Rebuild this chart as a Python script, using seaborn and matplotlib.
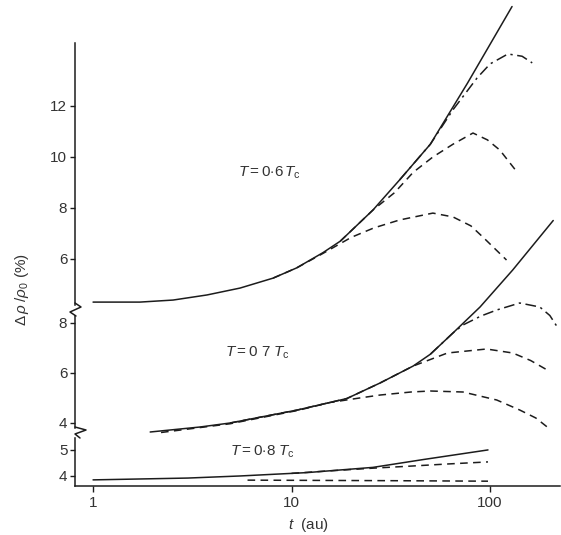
import matplotlib.pyplot as plt
import seaborn as sns
import numpy as np
from matplotlib.lines import Line2D
from matplotlib.ticker import FixedLocator, NullLocator, FixedFormatter

sns.set_theme(style="white")
plt.rcParams['font.family'] = ['Liberation Sans', 'DejaVu Sans']
plt.rcParams.update({
    'mathtext.fontset': 'custom',
    'mathtext.rm': 'Liberation Sans',
    'mathtext.it': 'Liberation Sans:italic',
    'mathtext.bf': 'Liberation Sans:bold',
    'font.size': 11,
    'xtick.labelsize': 11,
    'ytick.labelsize': 11,
})

INK = '#1c1c1c'

# ---- T = 0.6 Tc (top block) ----
t06_solid = [1, 1.72, 2.53, 3.75, 5.5, 8.07, 10.6, 14.4, 17.6, 25.7, 35, 50, 77, 129]
y06_solid = [4.31, 4.31, 4.39, 4.59, 4.86, 5.25, 5.65, 6.25, 6.7, 7.92, 9.1, 10.5, 12.9, 15.9]
t06_dash_low = [8.07, 10.6, 14.4, 20, 26, 35, 51.5, 65, 80, 92, 121]
y06_dash_low = [5.25, 5.65, 6.22, 6.85, 7.22, 7.53, 7.8, 7.65, 7.3, 6.86, 5.96]
t06_dash_mid = [17.6, 25.7, 33, 41, 51.5, 65, 82, 97, 112, 138]
y06_dash_mid = [6.7, 7.92, 8.6, 9.4, 10.0, 10.5, 10.94, 10.67, 10.27, 9.37]
t06_dashdot = [35, 50, 65, 86, 100, 123, 145, 163]
y06_dashdot = [9.1, 10.5, 11.85, 13.1, 13.65, 14.04, 13.95, 13.69]

# ---- T = 0.7 Tc (middle block) ----
t07_solid = [1.94, 3.46, 4.9, 10.7, 16.2, 19, 27.9, 41, 50, 65, 89, 130, 208]
y07_solid = [3.64, 3.84, 4.0, 4.52, 4.85, 4.98, 5.6, 6.28, 6.75, 7.6, 8.64, 10.12, 12.1]
t07_dash_low = [2.2, 4.9, 10.7, 15.6, 22, 28, 40, 50, 73, 108, 141, 170, 194]
y07_dash_low = [3.62, 3.97, 4.5, 4.82, 5.0, 5.12, 5.24, 5.28, 5.24, 4.92, 4.52, 4.2, 3.84]
t07_dash_mid = [4.9, 10.7, 19, 27.9, 41, 61, 96, 130, 160, 194]
y07_dash_mid = [4.0, 4.52, 4.98, 5.6, 6.28, 6.8, 6.96, 6.8, 6.5, 6.12]
t07_dashdot = [50, 65, 73, 90, 108, 141, 178, 200, 218]
y07_dashdot = [6.75, 7.6, 7.92, 8.28, 8.52, 8.8, 8.64, 8.3, 7.84]

# ---- T = 0.8 Tc (bottom block) ----
t08_solid = [1, 3, 5.5, 12, 25.7, 46, 97.6]
y08_solid = [3.85, 3.92, 4.0, 4.13, 4.33, 4.63, 5.0]
t08_dash_mid = [10, 14.4, 25.7, 38, 61, 97.6]
y08_dash_mid = [4.1, 4.18, 4.3, 4.37, 4.46, 4.54]
t08_dash_low = [6, 30, 97.6]
y08_dash_low = [3.84, 3.82, 3.8]

x_ticks = [1, 10, 100]
x_ticklabels = ['1', '10', '100']

DASH = (0, (5, 3.5))
DASHDOT = (0, (7, 3, 1.5, 3))

W, H = 561, 535
fig = plt.figure(figsize=(W / 100, H / 100), dpi=100)

x_left, x_right = 75, 560


def add_panel(top_px, bottom_px, ylim, yticks, spine_lo, spine_hi):
    ax = fig.add_axes([x_left / W, 1 - bottom_px / H,
                       (x_right - x_left) / W, (bottom_px - top_px) / H])
    ax.patch.set_alpha(0)
    ax.set_xscale('log')
    ax.set_xlim(0.811, 225)
    ax.set_ylim(*ylim)
    ax.yaxis.set_major_locator(FixedLocator(yticks))
    ax.yaxis.set_major_formatter(FixedFormatter([str(v) for v in yticks]))
    ax.yaxis.set_minor_locator(NullLocator())
    ax.xaxis.set_minor_locator(NullLocator())
    for s in ['top', 'right', 'bottom']:
        ax.spines[s].set_visible(False)
    ax.spines['left'].set_color(INK)
    ax.spines['left'].set_linewidth(1.1)
    ax.spines['left'].set_bounds(spine_lo, spine_hi)
    ax.tick_params(axis='y', direction='out', length=3.5, width=1.0,
                   color=INK, labelcolor='#333333', pad=2, left=True)
    ax.set_xticks([])
    ax.set_xlabel('')
    ax.set_ylabel('')
    return ax


def curve(ax, t, y, ls='-'):
    sns.lineplot(x=t, y=y, ax=ax, color=INK, linewidth=1.1,
                 linestyle=ls, estimator=None, sort=False, clip_on=False)


ax_top = add_panel(43, 310, (4.0, 14.47), [6, 8, 10, 12], 4.2, 14.47)
ax_mid = add_panel(310, 433, (3.6, 8.52), [4, 6, 8], 3.8, 8.3)
ax_bot = add_panel(433, 486, (3.615, 5.65), [4, 5], 3.615, 5.45)

curve(ax_top, t06_solid, y06_solid)
curve(ax_top, t06_dash_low, y06_dash_low, DASH)
curve(ax_top, t06_dash_mid, y06_dash_mid, DASH)
curve(ax_top, t06_dashdot, y06_dashdot, DASHDOT)

curve(ax_mid, t07_solid, y07_solid)
curve(ax_mid, t07_dash_low, y07_dash_low, DASH)
curve(ax_mid, t07_dash_mid, y07_dash_mid, DASH)
curve(ax_mid, t07_dashdot, y07_dashdot, DASHDOT)

curve(ax_bot, t08_solid, y08_solid)
curve(ax_bot, t08_dash_mid, y08_dash_mid, DASH)
curve(ax_bot, t08_dash_low, y08_dash_low, DASH)

# bottom axis carries the log time axis
ax_bot.spines['bottom'].set_visible(True)
ax_bot.spines['bottom'].set_color(INK)
ax_bot.spines['bottom'].set_linewidth(1.1)
ax_bot.set_xticks(x_ticks)
ax_bot.set_xticklabels(x_ticklabels)
ax_bot.xaxis.set_minor_locator(NullLocator())
ax_bot.tick_params(axis='x', direction='out', length=4, width=1.0,
                   color=INK, labelcolor='#333333', pad=3, bottom=True)

ax_top.text(5.4, 9.37, r'$T = 0{\cdot}6\,T_{\rm c}$', fontsize=11,
            color='#333333', ha='left', va='center')
ax_mid.text(4.62, 6.8, r'$T = 0\ 7\;T_{\rm c}$', fontsize=11,
            color='#333333', ha='left', va='center')
ax_bot.text(4.9, 4.92, r'$T = 0{\cdot}8\;T_{\rm c}$', fontsize=11,
            color='#333333', ha='left', va='center')

fig.text(22 / W, 1 - 290 / H, r'$\Delta\,\rho\;/\rho_0$ (%)', rotation=90,
         ha='center', va='center', fontsize=11, color='#333333')
fig.text(308 / W, 1 - 525 / H, r'$t$  (au)', ha='center', va='center',
         fontsize=11, color='#333333')


# zig-zag break marks on the left axis (pixel offsets)
def zigzag(pts):
    xs = [p[0] / W for p in pts]
    ys = [1 - p[1] / H for p in pts]
    fig.add_artist(Line2D(xs, ys, transform=fig.transFigure,
                          color=INK, linewidth=1.1))


zigzag([(75, 303), (81, 307), (70, 312), (76, 316)])
zigzag([(75, 427), (86, 430), (75, 434), (80, 438)])

fig.savefig('out.png', dpi=100)
